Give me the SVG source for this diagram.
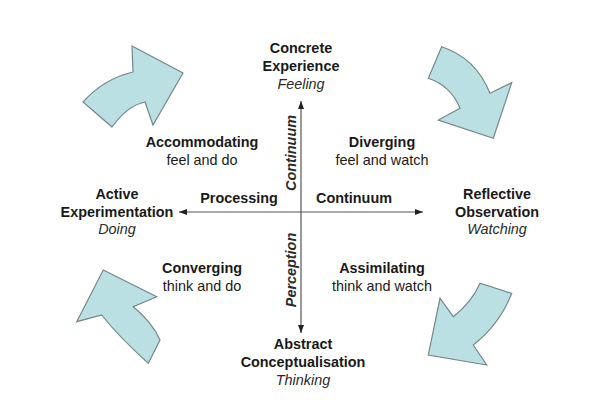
<svg xmlns="http://www.w3.org/2000/svg" width="600" height="420" viewBox="0 0 600 420">
<style>
.t{font-family:"Liberation Sans",Arial,sans-serif;font-size:14.4px;fill:#1a1a1a;text-anchor:middle}
.b{font-weight:bold}
.i{font-style:italic;fill:#2a2a2a}
.blk{fill:#bbe0e4;stroke:#75878a;stroke-width:1.2;stroke-linejoin:miter}
.ax{stroke:#555;stroke-width:1.2;fill:none}
</style>
<defs>
<marker id="ah" viewBox="0 0 8 6" refX="8" refY="3" markerWidth="8" markerHeight="6" markerUnits="userSpaceOnUse" orient="auto-start-reverse">
<path d="M0,0 L8,3 L0,6 Z" fill="#222"/>
</marker>
</defs>
<rect width="600" height="420" fill="#fff"/>
<g id="cycle-arrows">
<path id="arrow-tl" class="blk" d="M83,102 Q103.5,79 133,72 L132,46 L183,73 L153,125 L145,102 Q127.5,105.5 112,127 Z"/>
<path id="arrow-tr" class="blk" d="M441.7,46.7 Q476,58 490,93.3 L511.7,82.7 L493.3,138.3 L438.3,120 L460,108.3 Q451,86 428.3,78.3 Z"/>
<path id="arrow-br" class="blk" d="M511.7,293.3 Q500,324 473.3,345 L486.7,365 L428.3,355 L440,298.3 L453.3,316.7 Q472,302 480,283.3 Z"/>
<path id="arrow-bl" class="blk" d="M148.3,363.3 Q119,337 101.7,315 L76.7,321.7 L103.3,270 L156.7,296.7 L133.3,306.7 Q152,322 160,340 Z"/>
</g>
<g id="connectors">
<line class="ax" x1="301" y1="333" x2="301" y2="101" marker-start="url(#ah)" marker-end="url(#ah)"/>
<line class="ax" x1="179" y1="212" x2="423" y2="212" marker-start="url(#ah)" marker-end="url(#ah)"/>
</g>
<g id="concrete-experience">
<text class="t b" x="301" y="53">Concrete</text>
<text class="t b" x="301" y="71">Experience</text>
<text class="t i" x="301" y="89">Feeling</text>
</g>
<g id="reflective-observation">
<text class="t b" x="497" y="199">Reflective</text>
<text class="t b" x="497" y="217">Observation</text>
<text class="t i" x="497" y="234">Watching</text>
</g>
<g id="abstract-conceptualisation">
<text class="t b" x="303" y="349">Abstract</text>
<text class="t b" x="303" y="367">Conceptualisation</text>
<text class="t i" x="303" y="385">Thinking</text>
</g>
<g id="active-experimentation">
<text class="t b" x="117" y="199">Active</text>
<text class="t b" x="117" y="217">Experimentation</text>
<text class="t i" x="117" y="234">Doing</text>
</g>
<g id="accommodating">
<text class="t b" x="202" y="147">Accommodating</text>
<text class="t" x="202" y="165">feel and do</text>
</g>
<g id="diverging">
<text class="t b" x="382" y="147">Diverging</text>
<text class="t" x="382" y="165">feel and watch</text>
</g>
<g id="converging">
<text class="t b" x="202" y="273">Converging</text>
<text class="t" x="202" y="291">think and do</text>
</g>
<g id="assimilating">
<text class="t b" x="382" y="273">Assimilating</text>
<text class="t" x="382" y="291">think and watch</text>
</g>
<g id="axis-labels">
<text class="t b" x="239" y="203">Processing</text>
<text class="t b" x="354" y="203">Continuum</text>
<text class="t b i" transform="translate(296,153) rotate(-90)" x="0" y="0">Continuum</text>
<text class="t b i" transform="translate(296,270) rotate(-90)" x="0" y="0">Perception</text>
</g>
</svg>
